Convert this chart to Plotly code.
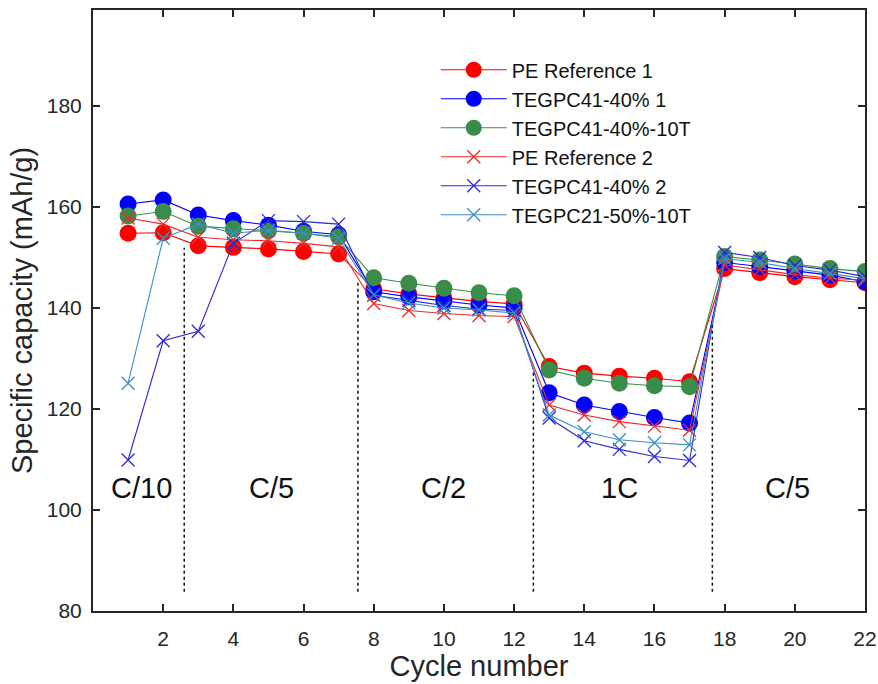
import plotly.graph_objects as go

cycles = list(range(1, 23))

pe_ref_1 = [154.8, 154.9, 152.3, 152.0, 151.7, 151.2, 150.7,
            143.8, 142.8, 142.0, 141.3, 140.8,
            128.4, 127.1, 126.5, 126.1, 125.4,
            147.8, 147.0, 146.2, 145.6, 145.0]
tegpc41_40_1 = [160.6, 161.4, 158.4, 157.3, 156.4, 155.2, 154.5,
                143.2, 142.2, 141.4, 140.6, 140.0,
                123.2, 120.8, 119.5, 118.3, 117.2,
                149.0, 148.2, 147.3, 146.5, 145.2]
tegpc41_40_10t = [158.2, 159.1, 156.2, 155.7, 155.3, 154.8, 154.1,
                  146.0, 144.9, 143.9, 143.0, 142.4,
                  127.7, 126.1, 125.1, 124.6, 124.4,
                  150.2, 149.5, 148.7, 147.8, 147.2]
pe_ref_2 = [157.8, 156.6, 154.0, 153.5, 153.3, 152.8, 152.1,
            140.9, 139.5, 138.9, 138.5, 138.3,
            120.8, 118.8, 117.5, 116.6, 115.8,
            148.5, 147.6, 146.6, 145.9, 145.5]
tegpc41_40_2 = [109.9, 133.5, 135.4, 152.8, 157.3, 157.1, 156.6,
                142.5, 141.5, 140.5, 139.8, 139.5,
                118.2, 113.7, 112.0, 110.6, 109.8,
                151.0, 150.0, 148.4, 147.5, 146.2]
tegpc21_50_10t = [125.1, 153.8, 156.6, 154.8, 155.4, 154.8, 153.8,
                  142.6, 141.0, 140.0, 139.6, 139.0,
                  118.8, 115.5, 113.9, 113.3, 112.9,
                  149.8, 149.0, 147.8, 146.8, 145.8]

series_names = ["PE Reference 1", "TEGPC41-40% 1", "TEGPC41-40%-10T",
                "PE Reference 2", "TEGPC41-40% 2", "TEGPC21-50%-10T"]
series_values = [pe_ref_1, tegpc41_40_1, tegpc41_40_10t,
                 pe_ref_2, tegpc41_40_2, tegpc21_50_10t]
series_colors = ["#ff0000", "#0000ff", "#3a8c4a",
                 "#ee2a2a", "#2a2ad6", "#3a8fc4"]
series_symbols = ["circle", "circle", "circle", "x-thin", "x-thin", "x-thin"]

divider_x = [2.6, 7.55, 12.55, 17.65]
divider_top = [151.9, 145.1, 127.3, 137.0]
divider_bottom = 83.8

rate_labels = ["C/10", "C/5", "C/2", "1C", "C/5"]
rate_label_x = [1.37, 5.1, 10.0, 15.0, 19.8]
rate_label_y = 104.4

font_family = "Liberation Sans, Arial, sans-serif"
axis_color = "#262626"

fig = go.Figure()
for name, vals, col, sym in zip(series_names, series_values, series_colors, series_symbols):
    if sym == "circle":
        marker = dict(symbol="circle", size=17, color=col, line=dict(width=0))
    else:
        marker = dict(symbol="x-thin", size=13, color=col, line=dict(width=1.3, color=col))
    fig.add_trace(go.Scatter(x=cycles, y=vals, name=name, mode="lines+markers",
                             line=dict(color=col, width=1.1), marker=marker))

shapes = []
for xv, yt in zip(divider_x, divider_top):
    shapes.append(dict(type="line", xref="x", yref="y", x0=xv, x1=xv,
                       y0=divider_bottom, y1=yt,
                       line=dict(color="#111111", width=1.5, dash="dot")))

annotations = []
for t, xv in zip(rate_labels, rate_label_x):
    annotations.append(dict(x=xv, y=rate_label_y, xref="x", yref="y", text=t,
                            showarrow=False, font=dict(size=29, color="#111111", family=font_family)))

fig.update_layout(
    width=878, height=684,
    margin=dict(l=93, r=13, t=10, b=73),
    paper_bgcolor="white", plot_bgcolor="white",
    font=dict(family=font_family, color=axis_color),
    shapes=shapes, annotations=annotations,
    showlegend=True,
    legend=dict(x=0.444, y=0.933, xanchor="left", yanchor="top",
                bgcolor="rgba(255,255,255,1)", borderwidth=0,
                font=dict(size=20, color="#111111", family=font_family),
                itemwidth=66, tracegroupgap=0),
)
fig.update_xaxes(range=[0, 22], tickvals=list(range(2, 23, 2)),
                 ticks="inside", ticklen=7, tickwidth=2, tickcolor=axis_color,
                 showline=True, linewidth=2, linecolor=axis_color, mirror="ticks",
                 showgrid=False, zeroline=False, automargin=False,
                 ticklabelstandoff=8,
                 tickfont=dict(size=21, color=axis_color),
                 title=dict(text="Cycle number", font=dict(size=29, color=axis_color), standoff=0))
fig.update_yaxes(range=[80, 199], tickvals=list(range(80, 181, 20)),
                 ticks="inside", ticklen=7, tickwidth=2, tickcolor=axis_color,
                 showline=True, linewidth=2, linecolor=axis_color, mirror="ticks",
                 showgrid=False, zeroline=False, automargin=False,
                 ticklabelstandoff=5,
                 tickfont=dict(size=21, color=axis_color),
                 title=dict(text="Specific capacity (mAh/g)", font=dict(size=29, color=axis_color), standoff=6))

fig.write_html("out.html", config={"displayModeBar": False},
               post_script="document.body.style.margin='0';")
